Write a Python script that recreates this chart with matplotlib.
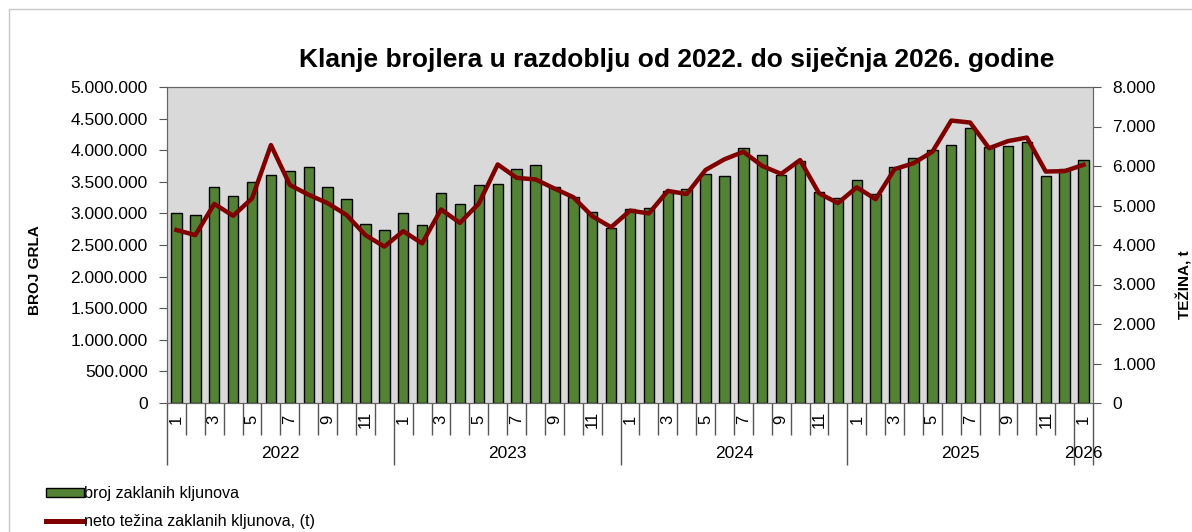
import matplotlib
matplotlib.use("Agg")
import matplotlib.pyplot as plt
from matplotlib.patches import Patch, Rectangle
from matplotlib.lines import Line2D
from matplotlib.ticker import FuncFormatter

plt.rcParams["font.family"] = ["Liberation Sans", "DejaVu Sans"]

# Data: Jan 2022 - Jan 2026
years = ["2022", "2023", "2024", "2025", "2026"]
months_per_year = [12, 12, 12, 12, 1]

broj_kljunova = [
    3010000, 2975000, 3410000, 3280000, 3500000, 3610000,
    3675000, 3730000, 3420000, 3230000, 2840000, 2730000,
    3000000, 2820000, 3330000, 3150000, 3450000, 3465000,
    3700000, 3770000, 3410000, 3260000, 3020000, 2770000,
    3065000, 3080000, 3360000, 3390000, 3630000, 3590000,
    4030000, 3920000, 3610000, 3830000, 3340000, 3240000,
    3530000, 3310000, 3740000, 3880000, 4000000, 4080000,
    4350000, 4050000, 4070000, 4130000, 3590000, 3700000,
    3840000,
]

neto_tezina = [
    4380, 4250, 5040, 4740, 5180, 6530,
    5520, 5270, 5060, 4760, 4250, 3960,
    4350, 4040, 4900, 4560, 5050, 6040,
    5700, 5660, 5430, 5210, 4730, 4450,
    4870, 4800, 5370, 5290, 5900, 6170,
    6360, 6000, 5800, 6150, 5310, 5060,
    5460, 5160, 5920, 6070, 6360, 7150,
    7100, 6450, 6630, 6720, 5860, 5870,
    6030,
]

W, H = 1192, 532
fig = plt.figure(figsize=(W / 100, H / 100), dpi=100)

# light border of the chart area
fig.patches.append(Rectangle((9 / W, -0.1), 1.2, 1 - 9 / H + 0.1,
                             transform=fig.transFigure, fill=False,
                             edgecolor="#c8c8c8", linewidth=1))

left, right, top, bottom = 167, 1093, 87, 403
ax = fig.add_axes([left / W, 1 - bottom / H, (right - left) / W, (bottom - top) / H])
ax.set_facecolor("#d9d9d9")

x = list(range(len(broj_kljunova)))
ax.bar(x, broj_kljunova, width=0.55, color="#548235", edgecolor="black", linewidth=1, zorder=2)
ax.set_xlim(-0.5, len(x) - 0.5)
ax.set_ylim(0, 5000000)
ax.set_yticks(range(0, 5000001, 500000))
ax.yaxis.set_major_formatter(FuncFormatter(lambda v, p: f"{int(v):,}".replace(",", ".")))
ax.set_xticks([])
ax.tick_params(axis="y", labelsize=12.5, length=6, color="#555555", pad=8)
for s in ax.spines.values():
    s.set_color("#666666")

ax2 = ax.twinx()
ax2.plot(x, neto_tezina, color="#800000", linewidth=3.2, zorder=3, solid_joinstyle="round")
ax2.set_ylim(0, 8000)
ax2.set_yticks(range(0, 8001, 1000))
ax2.yaxis.set_major_formatter(FuncFormatter(lambda v, p: f"{int(v):,}".replace(",", ".")))
ax2.tick_params(axis="y", labelsize=12.5, length=6, color="#555555", pad=8)
for s in ax2.spines.values():
    s.set_color("#666666")

# multi-level category axis
trans = ax.get_xaxis_transform()
ph = bottom - top
month_y = -32 / ph
year_y = -62 / ph
pos = 0
for yr, n in zip(years, months_per_year):
    ax.vlines(pos - 0.5, year_y, 0, transform=trans, color="#555555", linewidth=1, clip_on=False)
    for m in range(1, n + 1):
        i = pos + m - 1
        if m > 1:
            ax.vlines(i - 0.5, month_y, 0, transform=trans, color="#555555", linewidth=1, clip_on=False)
        if m % 2 == 1:
            ax.text(i, -16 / ph, str(m), transform=trans, rotation=90,
                    ha="center", va="center", fontsize=12)
    ax.text(pos + (n - 1) / 2, -50 / ph, yr, transform=trans,
            ha="center", va="center", fontsize=12.5)
    pos += n
ax.vlines(pos - 0.5, year_y, 0, transform=trans, color="#555555", linewidth=1, clip_on=False)

fig.text(677 / W, 1 - 59 / H, "Klanje brojlera u razdoblju od 2022. do siječnja 2026. godine",
         ha="center", va="center", fontsize=19, fontweight="bold")
fig.text(35 / W, 1 - 270 / H, "BROJ GRLA", rotation=90, ha="center", va="center",
         fontsize=11, fontweight="bold")
fig.text(1184 / W, 1 - 285 / H, "TEŽINA, t", rotation=90, ha="center", va="center",
         fontsize=11, fontweight="bold")

handles = [Patch(facecolor="#548235", edgecolor="black"),
           Line2D([0], [0], color="#800000", linewidth=3.6)]
labels = ["broj zaklanih kljunova", "neto težina zaklanih kljunova, (t)"]
fig.legend(handles, labels, loc="upper left", bbox_to_anchor=(40 / W, 1 - 480 / H),
           frameon=False, fontsize=11.6, handlelength=2.3, handleheight=0.45,
           handletextpad=0.05, labelspacing=0.78, borderaxespad=0)

fig.savefig("out.png", dpi=100)
